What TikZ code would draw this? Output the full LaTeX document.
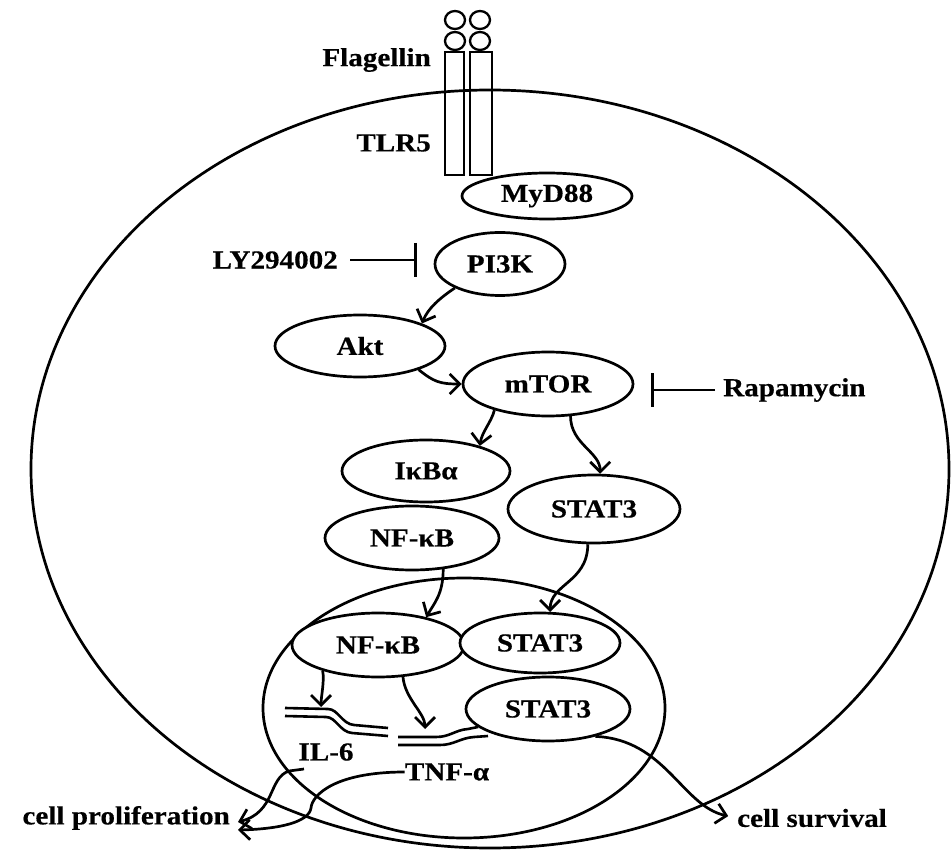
\documentclass[tikz,border=0pt]{standalone}
\usepackage{fontspec}
\setmainfont{Liberation Serif}[FakeStretch=1.12,FakeBold=0.4]
\usetikzlibrary{shapes.geometric,arrows.meta}
\tikzset{
  lw/.style={line width=2.7pt},
  mol/.style={ellipse, draw, fill=white, lw, inner sep=0pt, font=\bfseries\fontsize{26}{30}\selectfont},
  lbl/.style={inner sep=0pt, font=\bfseries\fontsize{26}{30}\selectfont},
  arr/.style={lw, -{Straight Barb[length=10pt,width=20pt]}},
  inhib/.style={lw, -{Bar[width=34pt]}},
  dna/.style={line width=2.6pt},
}
\begin{document}
\begin{tikzpicture}[x=1pt,y=-1pt]
\useasboundingbox (0,0) rectangle (951,850);
% cell and nucleus
\draw[lw] (490,469) ellipse [x radius=459pt, y radius=379pt];
\draw[lw] (464,708) ellipse [x radius=201pt, y radius=130pt];
% receptor TLR5
\draw[line width=2.3pt] (445,52) rectangle (464,175);
\draw[line width=2.3pt] (470,52) rectangle (492,175);
\draw[line width=2.3pt] (455,20) ellipse [x radius=10pt, y radius=9pt];
\draw[line width=2.3pt] (455,41) ellipse [x radius=10pt, y radius=9pt];
\draw[line width=2.3pt] (480,20) ellipse [x radius=10pt, y radius=9pt];
\draw[line width=2.3pt] (480,41) ellipse [x radius=10pt, y radius=9pt];
\node[lbl, anchor=east] (flag) at (431,60) {Flagellin};
\node[lbl, anchor=east] (tlr) at (431,143) {TLR5};
% molecules
\node[mol, minimum width=170pt, minimum height=46pt] (myd) at (547,196) {MyD88};
\node[mol, minimum width=130pt, minimum height=63pt] (pi3k) at (500,264) {PI3K};
\node[mol, minimum width=170pt, minimum height=62pt] (akt) at (360,346) {Akt};
\node[mol, minimum width=170pt, minimum height=64pt] (mtor) at (548,384) {mTOR};
\node[mol, minimum width=168pt, minimum height=62pt] (ikb) at (426,471) {IκBα};
\node[mol, minimum width=174pt, minimum height=64pt] (nfc) at (412,538) {NF-κB};
\node[mol, minimum width=172pt, minimum height=68pt] (s3c) at (594,509) {STAT3};
\node[mol, minimum width=172pt, minimum height=64pt] (nfn) at (378,645) {NF-κB};
\node[mol, minimum width=160pt, minimum height=60pt] (s3a) at (540,643) {STAT3};
\node[mol, minimum width=164pt, minimum height=64pt] (s3b) at (548,709) {STAT3};
% labels
\node[lbl, anchor=east] (ly) at (338,260) {LY294002};
\node[lbl, anchor=west] (rapa) at (723,390) {Rapamycin};
\node[lbl] (il6) at (326,752) {IL-6};
\node[lbl] (tnf) at (447,772) {TNF-α};
\node[lbl, anchor=east] (prolif) at (230,818) {cell proliferation};
\node[lbl, anchor=west] (surv) at (737,818) {cell survival};
% inhibitors
\coordinate (lybar) at (417,260);
\coordinate (rapabar) at (651,390);
\draw[inhib, shorten <=12pt] (ly.east) -- (lybar);
\draw[inhib, shorten <=8pt] (rapa.west) -- (rapabar);
% activation arrows
\draw[arr] (pi3k.208) .. controls +(-15,10) and +(6,-15) .. (akt.20);
\draw[arr] (akt.-22) .. controls +(15,12) and +(-22,0) .. (mtor.180);
\draw[arr] (mtor.206) .. controls +(-3,12) and +(2,-14) .. (ikb.25);
\draw[arr] (mtor.-55) .. controls +(0,28) and +(0,-22) .. (s3c.80);
\draw[arr] (nfc.-45) .. controls +(0,25) and +(8,-14) .. (nfn.30);
\draw[arr] (s3c.-100) .. controls +(0,38) and +(0,-28) .. (s3a.72);
% genes
\coordinate (g1) at (321,707);
\coordinate (g2) at (425,729);
\draw[arr] (nfn.205) .. controls +(2,10) and +(0,-10) .. (g1);
\draw[arr] (nfn.-52) .. controls +(2,22) and +(0,-16) .. (g2);
\draw[dna] (285,708) -- (328,709) .. controls (338,709) and (342,724) .. (354,725) -- (388,728);
\draw[dna] (285,716) -- (326,717) .. controls (336,717) and (340,732) .. (352,733) -- (388,736);
\draw[dna] (398,737) -- (436,737) .. controls (450,737) and (455,730) .. (468,729) -- (478,727);
\draw[dna] (398,745) -- (440,745) .. controls (454,745) and (460,738) .. (474,737) -- (488,736);
% outcomes
\coordinate (il6s) at (304,769);
\draw[arr] (il6s) -- (289,771) .. controls (268,778) and (276,812) .. ([xshift=8pt,yshift=-4pt]prolif.east);
\draw[arr] (tnf.west) .. controls (335,772) and (312,795) .. (311,808) .. controls (309,822) and (280,829) .. ([xshift=8pt,yshift=-12pt]prolif.east);
\draw[arr, shorten >=9pt] (s3b.-30) .. controls +(70,3) and +(-55,-12) .. (surv.west);
\end{tikzpicture}
\end{document}
